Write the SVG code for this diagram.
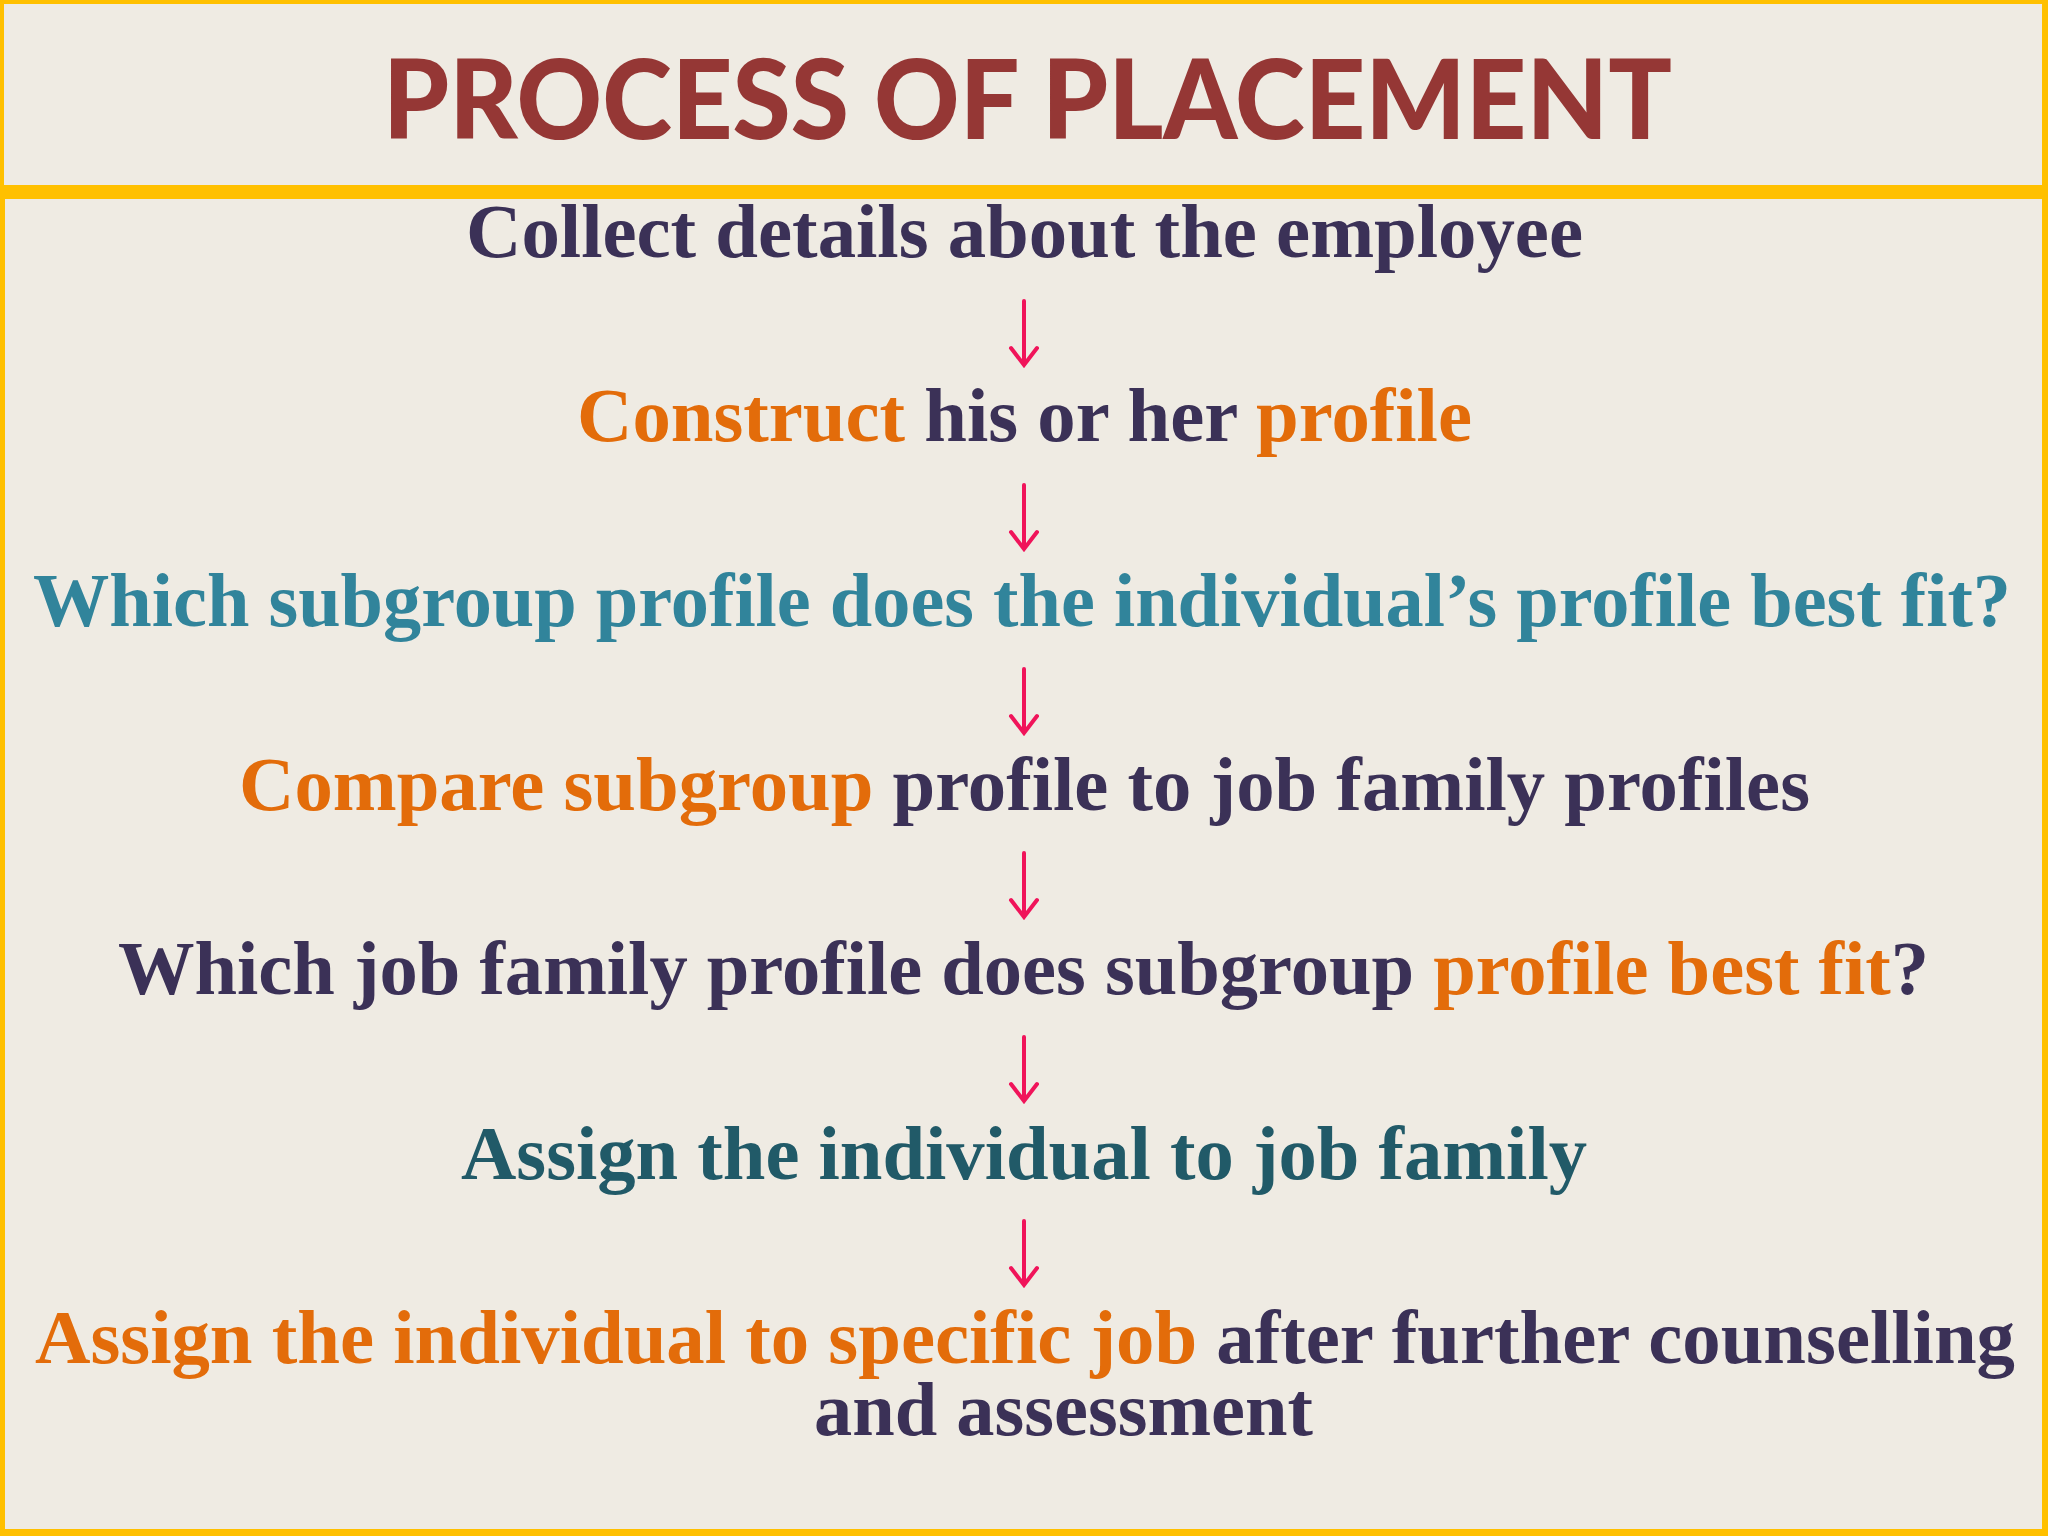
<svg xmlns="http://www.w3.org/2000/svg" width="2048" height="1536" viewBox="0 0 2048 1536">
<style>
.t{font-family:"Liberation Serif","Times New Roman",serif;font-weight:700;font-size:77px}
.d{fill:#3B3157}.o{fill:#E36C0A}.b{fill:#31849B}.g{fill:#215A68}
.title{font-family:Lato,"Open Sans",sans-serif;font-weight:900;font-size:110px;fill:#953735}
.arr{stroke:#F0145A;stroke-width:4;fill:none;stroke-linecap:round;stroke-linejoin:miter}
</style>
<rect x="0" y="0" width="2048" height="1536" fill="#FFC000"/>
<g id="header">
<rect x="4" y="4" width="2038" height="181" fill="#EFEBE3"/>
<text class="title" x="383" y="139" textLength="1289" lengthAdjust="spacingAndGlyphs">PROCESS OF PLACEMENT</text>
</g>
<rect id="body-panel" x="5" y="199" width="2037" height="1330" fill="#EFEBE3"/>
<g id="step1"><text class="t d" x="466" y="257" textLength="1117" lengthAdjust="spacingAndGlyphs">Collect details about the employee</text></g>
<g id="step2"><text class="t" x="577" y="441" textLength="895" lengthAdjust="spacingAndGlyphs"><tspan class="o">Construct</tspan><tspan class="d"> his or her </tspan><tspan class="o">profile</tspan></text></g>
<g id="step3"><text class="t b" x="33" y="626" textLength="1978" lengthAdjust="spacingAndGlyphs">Which subgroup profile does the individual’s profile best fit?</text></g>
<g id="step4"><text class="t" x="239" y="810" textLength="1571" lengthAdjust="spacingAndGlyphs"><tspan class="o">Compare subgroup</tspan><tspan class="d"> profile to job family profiles</tspan></text></g>
<g id="step5"><text class="t" x="118" y="994" textLength="1811" lengthAdjust="spacingAndGlyphs"><tspan class="d">Which job family profile does subgroup </tspan><tspan class="o">profile best fit</tspan><tspan class="d">?</tspan></text></g>
<g id="step6"><text class="t g" x="461" y="1179" textLength="1126" lengthAdjust="spacingAndGlyphs">Assign the individual to job family</text></g>
<g id="step7">
<text class="t" x="35" y="1363" textLength="1980" lengthAdjust="spacingAndGlyphs"><tspan class="o">Assign the individual to specific job</tspan><tspan class="d"> after further counselling</tspan></text>
<text class="t d" x="814" y="1435" textLength="499" lengthAdjust="spacingAndGlyphs">and assessment</text>
</g>
<defs>
<path id="a" d="M0 0 V64 M-13 47 L0 64 L13 47"/>
</defs>
<g id="connectors">
<use href="#a" class="arr" x="1024" y="301"/>
<use href="#a" class="arr" x="1024" y="485"/>
<use href="#a" class="arr" x="1024" y="669"/>
<use href="#a" class="arr" x="1024" y="853"/>
<use href="#a" class="arr" x="1024" y="1037"/>
<use href="#a" class="arr" x="1024" y="1221"/>
</g>
</svg>
